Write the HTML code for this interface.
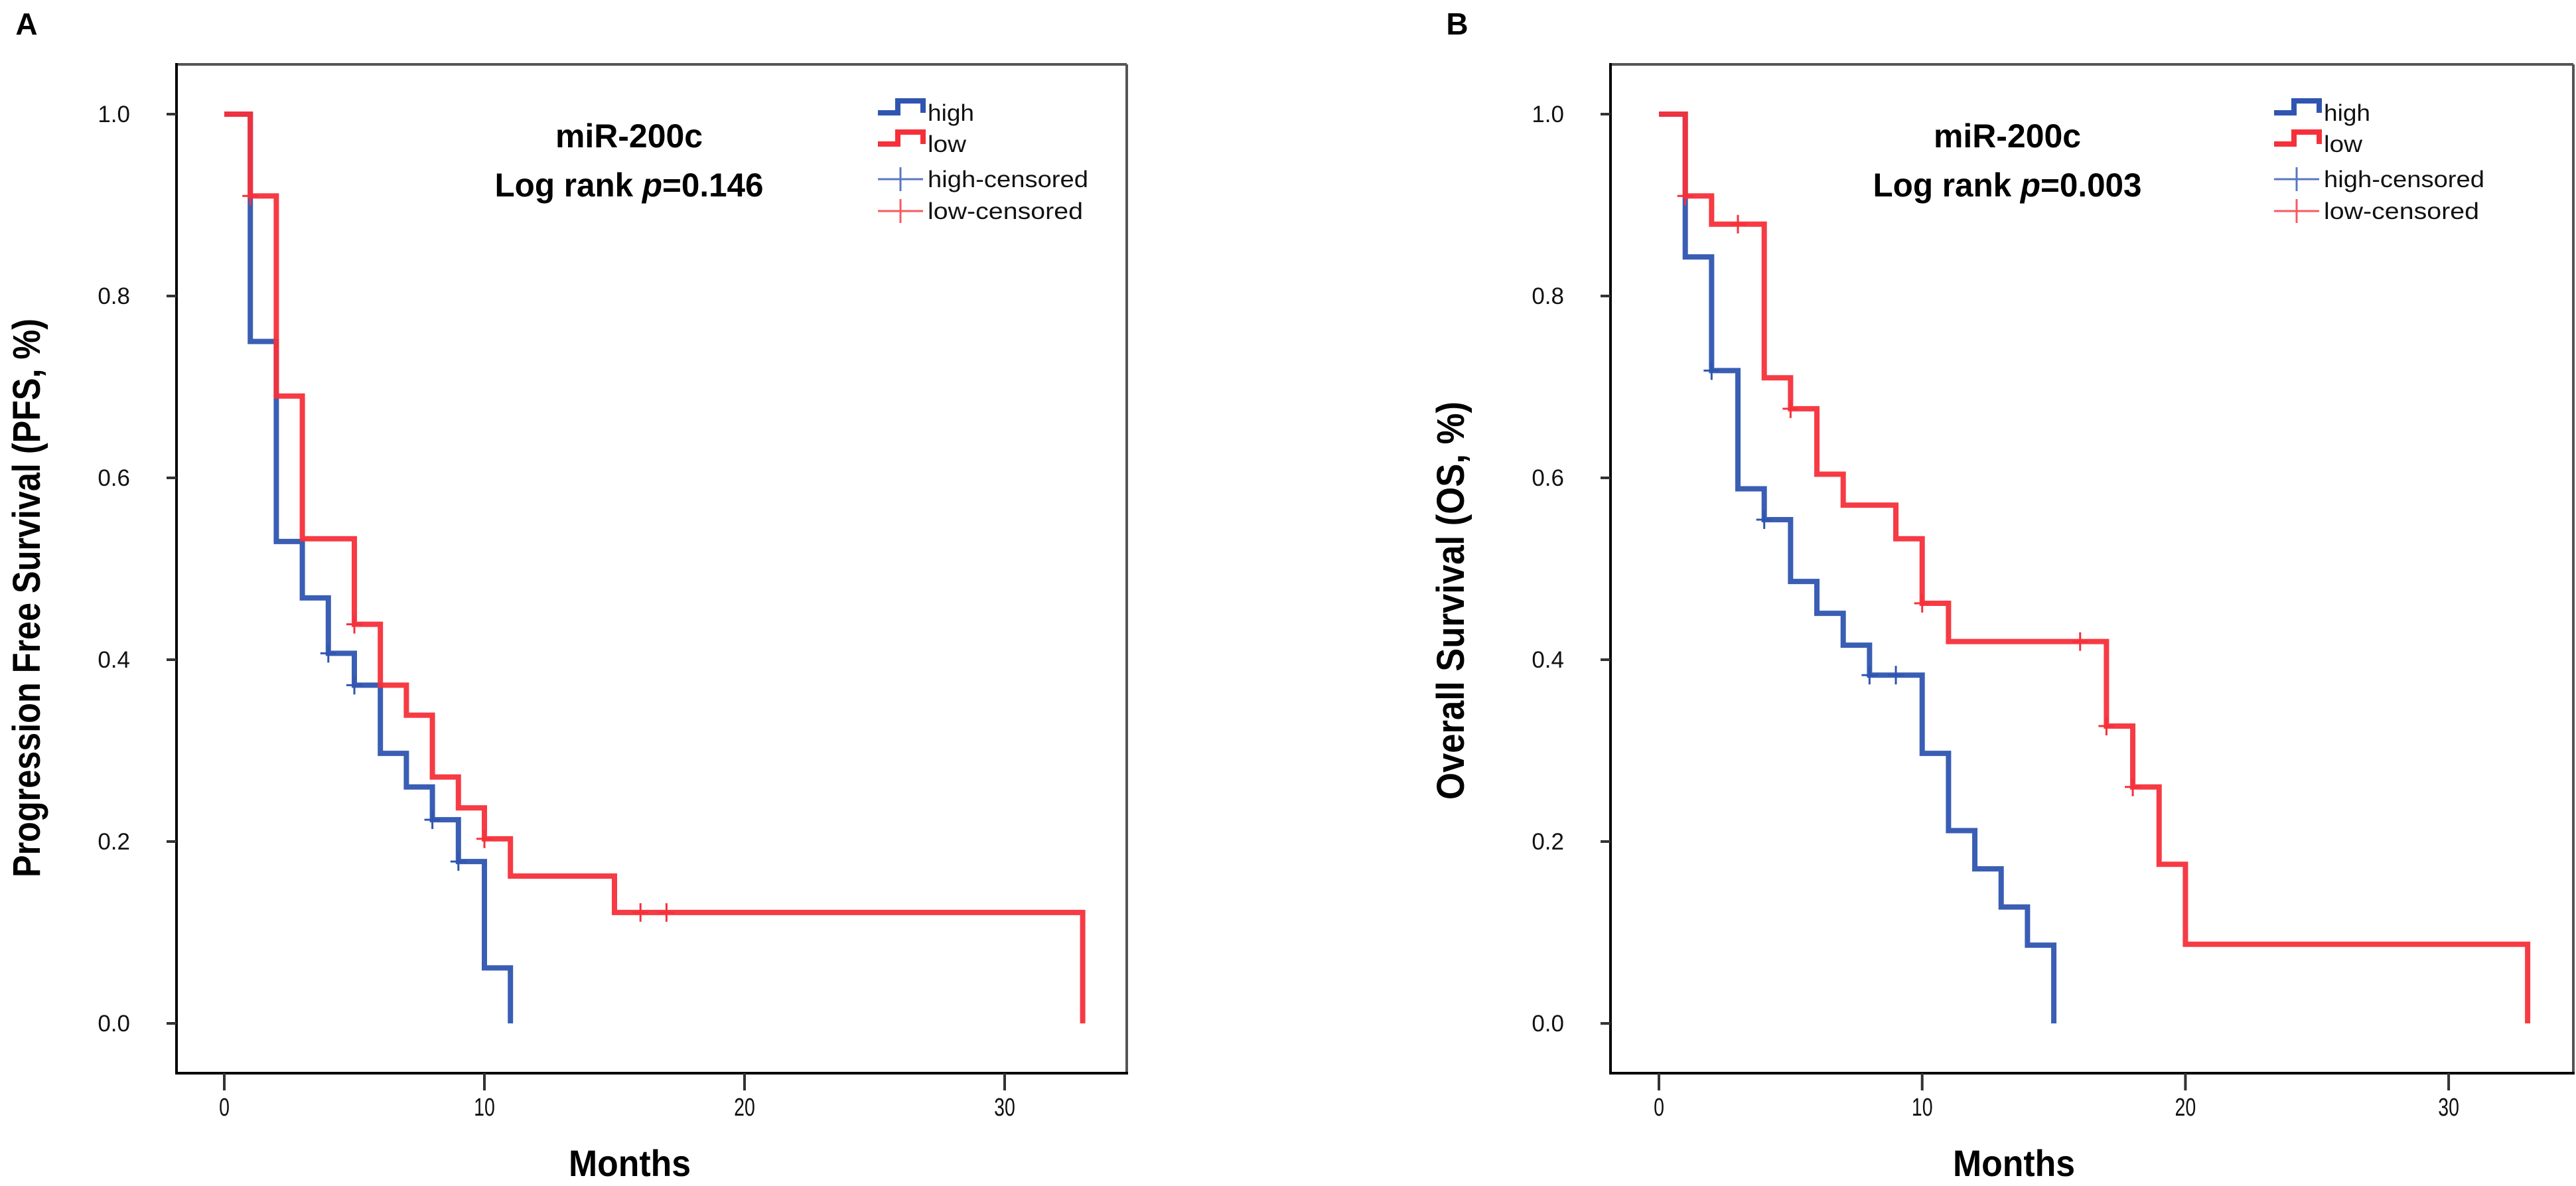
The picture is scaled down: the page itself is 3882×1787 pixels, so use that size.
<!DOCTYPE html>
<html><head><meta charset="utf-8">
<style>
html,body{margin:0;padding:0;background:#fff;}
svg{display:block;}
text{font-family:"Liberation Sans",sans-serif;}
</style></head>
<body>
<svg id="fig" width="3882" height="1787" viewBox="0 0 3882 1787" xmlns="http://www.w3.org/2000/svg"></svg>
<script>
// ---- Panel A data (PFS) ----
const aHighTimes = [1, 2, 3, 4, 5, 6, 7, 8, 9, 10, 11];
const aHighSurv  = [0.75, 0.53, 0.468, 0.407, 0.372, 0.297, 0.26, 0.224, 0.178, 0.061, 0];
const aHighCensT = [4, 5, 8, 9];
const aLowTimes  = [1, 2, 3, 5, 6, 7, 8, 9, 10, 11, 15, 33];
const aLowSurv   = [0.91, 0.69, 0.533, 0.439, 0.372, 0.339, 0.271, 0.237, 0.203, 0.162, 0.122, 0];
const aLowCensT  = [1, 5, 10, 16, 17];
// ---- Panel B data (OS) ----
const bHighTimes = [1, 2, 3, 4, 5, 6, 7, 8, 10, 11, 12, 13, 14, 15];
const bHighSurv  = [0.843, 0.718, 0.588, 0.554, 0.486, 0.451, 0.416, 0.383, 0.297, 0.212, 0.17, 0.128, 0.086, 0];
const bHighCensT = [2, 4, 8, 9];
const bLowTimes  = [1, 2, 4, 5, 6, 7, 9, 10, 11, 17, 18, 19, 20, 33];
const bLowSurv   = [0.91, 0.879, 0.71, 0.676, 0.604, 0.57, 0.533, 0.462, 0.42, 0.327, 0.26, 0.175, 0.087, 0];
const bLowCensT  = [1, 3, 5, 10, 16, 17, 18];
// ---- axis ticks ----
const xTicks = [0, 10, 20, 30];
const yTicks = [0.0, 0.2, 0.4, 0.6, 0.8, 1.0];
const yTickLabels = ["0.0", "0.2", "0.4", "0.6", "0.8", "1.0"];
const legendLabels = ["high", "low", "high-censored", "low-censored"];

const NS = "http://www.w3.org/2000/svg";
const svg = document.getElementById("fig");
const BLUE = "#2f55b0", RED = "#f5303a";

function mk(parent, tag, attrs, txt) {
  const e = document.createElementNS(NS, tag);
  for (const k in attrs) e.setAttribute(k, attrs[k]);
  if (txt !== undefined) e.textContent = txt;
  parent.appendChild(e);
  return e;
}

function survAt(times, surv, t) {
  let s = 1;
  for (let i = 0; i < times.length; i++) if (times[i] <= t) s = surv[i];
  return s;
}

function panel(cfg) {
  const g = mk(svg, "g", {});
  
  
  const L = cfg.left, R = cfg.right, T = 97, B = 1617;
  const x0 = cfg.x0, pxPer10 = cfg.per10;
  const X = t => x0 + t * pxPer10 / 10;
  const Y = v => 1542 - v * 1370;

  const lab = mk(g, "text", {x: cfg.labelX, y: 52, "font-size": 46, "font-weight": "bold", "text-anchor": "middle"}, cfg.letter);
  
  

  // frame
  const fr = mk(g, "g", {});
  
  
  mk(fr, "line", {x1: L, y1: T, x2: R, y2: T, stroke: "#555", "stroke-width": 4});
  mk(fr, "line", {x1: R, y1: T, x2: R, y2: B, stroke: "#555", "stroke-width": 4});
  mk(fr, "line", {x1: L, y1: T - 2, x2: L, y2: B + 2, stroke: "#000", "stroke-width": 4});
  mk(fr, "line", {x1: L - 2, y1: B, x2: R + 2, y2: B, stroke: "#000", "stroke-width": 4});

  // y ticks
  const ya = mk(g, "g", {});
  
  
  yTicks.forEach((v, i) => {
    mk(ya, "line", {x1: L - 15, y1: Y(v), x2: L, y2: Y(v), stroke: "#333", "stroke-width": 4});
    const t = mk(ya, "text", {x: L - 70, y: Y(v) + 12, "font-size": 35, "text-anchor": "end", fill: "#111"}, yTickLabels[i]);
    
    
  });
  // x ticks
  const xa = mk(g, "g", {});
  
  
  xTicks.forEach(v => {
    mk(xa, "line", {x1: X(v), y1: B, x2: X(v), y2: B + 26, stroke: "#333", "stroke-width": 4});
    const t = mk(xa, "text", {x: X(v), y: 1681, "font-size": 38, "text-anchor": "middle", fill: "#111", transform: `translate(${X(v)},1681) scale(0.75,1) translate(${-X(v)},-1681)`}, String(v));
    
    
  });
  const xt = mk(g, "text", {x: cfg.monthsX, y: 1772, "font-size": 56, "font-weight": "bold", "text-anchor": "middle", textLength: 184, lengthAdjust: "spacingAndGlyphs"}, "Months");
  
  
  const yt = mk(g, "text", {x: 0, y: 0, "font-size": 58, "font-weight": "bold", "text-anchor": "middle",
    transform: `translate(${cfg.ytX},${cfg.ytY}) rotate(-90)`, textLength: cfg.ytLen, lengthAdjust: "spacingAndGlyphs"}, cfg.ytitle);
  
  

  // annotation
  const an = mk(g, "g", {});
  
  
  mk(an, "text", {x: cfg.annX, y: 222, "font-size": 50, "font-weight": "bold", "text-anchor": "middle", textLength: 222, lengthAdjust: "spacingAndGlyphs"}, "miR-200c");
  const t2 = mk(an, "text", {x: cfg.annX, y: 296, "font-size": 50, "font-weight": "bold", "text-anchor": "middle", textLength: 405, lengthAdjust: "spacingAndGlyphs"});
  mk(t2, "tspan", {}, "Log rank ");
  mk(t2, "tspan", {"font-style": "italic"}, "p");
  mk(t2, "tspan", {}, "=" + cfg.pval);

  // curves
  function curve(times, surv, cens, color, nm) {
    let d = `M${X(0)},${Y(1)}`;
    let prev = 1;
    times.forEach((t, i) => {
      d += ` H${X(t)} V${Y(surv[i])}`;
      prev = surv[i];
    });
    const p = mk(g, "path", {d: d, fill: "none", stroke: color, "stroke-width": 8, "stroke-linejoin": "miter", "stroke-opacity": 0.95});
    
    
    cens.forEach(t => {
      const yv = Y(survAt(times, surv, t));
      const c = mk(g, "path", {d: `M${X(t) - 12},${yv} H${X(t) + 12} M${X(t)},${yv - 14} V${yv + 14}`, stroke: color, "stroke-width": 3, fill: "none"});
      
      
    });
  }
  curve(cfg.hT, cfg.hS, cfg.hC, BLUE, "high");
  curve(cfg.lT, cfg.lS, cfg.lC, RED, "low");

  // legend
  const lg = mk(g, "g", {});
  
  
  const lx = cfg.legX, tx = lx + 75;
  const rows = [182, 229, 282, 330];
  [BLUE, RED].forEach((c, i) => {
    const by = rows[i] - 12;
    const e = mk(lg, "path", {d: `M${lx},${by} H${lx + 30} V${by - 18} H${lx + 68} V${by}`, fill: "none", stroke: c, "stroke-width": 8});
    
    
  });
  [BLUE, RED].forEach((c, i) => {
    const by = rows[i + 2] - 12;
    const e = mk(lg, "path", {d: `M${lx},${by} H${lx + 68} M${lx + 34},${by - 18} V${by + 18}`, fill: "none", stroke: c, "stroke-width": 3, "stroke-opacity": 0.8});
    
    
  });
  const widths = [70, 58, 242, 234];
  legendLabels.forEach((s, i) => {
    const t = mk(lg, "text", {x: tx, y: rows[i], "font-size": 35, fill: "#111", textLength: widths[i], lengthAdjust: "spacingAndGlyphs"}, s);
    
    
  });
}

panel({name: "panel-a-pfs", letter: "A", labelX: 40, left: 266, right: 1698, x0: 338, per10: 392,
  monthsX: 949, ytX: 60, ytY: 901, ytLen: 842, ytitle: "Progression Free Survival (PFS, %)",
  annX: 948, pval: "0.146", legX: 1323,
  hT: aHighTimes, hS: aHighSurv, hC: aHighCensT, lT: aLowTimes, lS: aLowSurv, lC: aLowCensT});
panel({name: "panel-b-os", letter: "B", labelX: 2196, left: 2427, right: 3878, x0: 2500, per10: 396.7,
  monthsX: 3035, ytX: 2206, ytY: 905, ytLen: 600, ytitle: "Overall Survival (OS, %)",
  annX: 3025, pval: "0.003", legX: 3427,
  hT: bHighTimes, hS: bHighSurv, hC: bHighCensT, lT: bLowTimes, lS: bLowSurv, lC: bLowCensT});
</script>
</body></html>
